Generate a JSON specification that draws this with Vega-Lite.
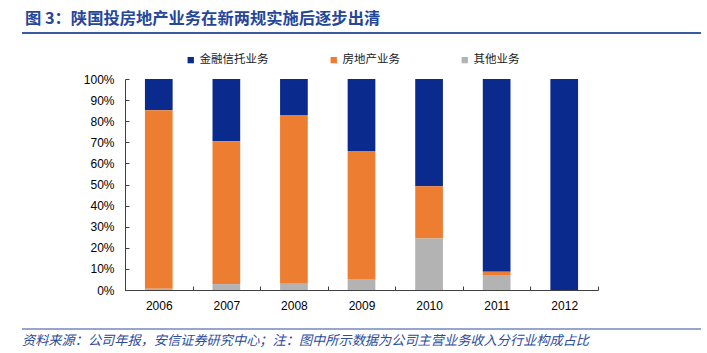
{
  "$schema": "https://vega.github.io/schema/vega-lite/v6.json",
  "background": "white",
  "padding": {"left": 22, "top": 10, "right": 6, "bottom": 2},
  "bounds": "flush",
  "spacing": 45,
  "config": {"view": {"stroke": null}, "font": "Liberation Sans"},
  "vconcat": [
    {
      "width": 679,
      "height": 2,
      "data": {"values": []},
      "mark": "point",
      "encoding": {},
      "view": {"fill": "#3a5aa8", "stroke": null},
      "title": {
        "text": "图 3：陕国投房地产业务在新两规实施后逐步出清",
        "anchor": "start",
        "frame": "group",
        "orient": "top",
        "offset": 5,
        "dx": 3,
        "font": "Noto Sans CJK SC",
        "fontSize": 16.3,
        "fontWeight": "bold",
        "color": "#24479a"
      }
    },
    {
      "bounds": "flush",
      "center": true,
      "spacing": 38.5,
      "vconcat": [
        {
          "width": 473,
          "height": 211,
          "data": {
            "values": [
              {"year": "2006", "category": "金融信托业务", "value": 14.8},
              {"year": "2006", "category": "房地产业务", "value": 84.6},
              {"year": "2006", "category": "其他业务", "value": 0.6},
              {"year": "2007", "category": "金融信托业务", "value": 29.5},
              {"year": "2007", "category": "房地产业务", "value": 67.7},
              {"year": "2007", "category": "其他业务", "value": 2.8},
              {"year": "2008", "category": "金融信托业务", "value": 17.1},
              {"year": "2008", "category": "房地产业务", "value": 79.9},
              {"year": "2008", "category": "其他业务", "value": 3.0},
              {"year": "2009", "category": "金融信托业务", "value": 34.1},
              {"year": "2009", "category": "房地产业务", "value": 60.7},
              {"year": "2009", "category": "其他业务", "value": 5.2},
              {"year": "2010", "category": "金融信托业务", "value": 50.8},
              {"year": "2010", "category": "房地产业务", "value": 24.8},
              {"year": "2010", "category": "其他业务", "value": 24.4},
              {"year": "2011", "category": "金融信托业务", "value": 91.3},
              {"year": "2011", "category": "房地产业务", "value": 1.6},
              {"year": "2011", "category": "其他业务", "value": 7.1},
              {"year": "2012", "category": "金融信托业务", "value": 100},
              {"year": "2012", "category": "房地产业务", "value": 0},
              {"year": "2012", "category": "其他业务", "value": 0}
            ]
          },
          "mark": {"type": "bar", "width": {"band": 0.41}},
          "encoding": {
            "x": {
              "field": "year",
              "type": "ordinal",
              "scale": {"paddingInner": 0, "paddingOuter": 0},
              "axis": {
                "title": null,
                "labelAngle": 0,
                "tickBand": "extent",
                "tickSize": -4,
                "tickColor": "#404040",
                "domainColor": "#404040",
                "labelPadding": 14,
                "labelFont": "Liberation Sans",
                "labelFontSize": 12,
                "labelColor": "#000000"
              }
            },
            "y": {
              "field": "value",
              "type": "quantitative",
              "stack": "normalize",
              "axis": {
                "title": null,
                "grid": false,
                "values": [0, 0.1, 0.2, 0.3, 0.4, 0.5, 0.6, 0.7, 0.8, 0.9, 1],
                "format": ".0%",
                "tickSize": -4,
                "tickColor": "#404040",
                "domainColor": "#404040",
                "labelPadding": 15,
                "labelFont": "Liberation Sans",
                "labelFontSize": 12,
                "labelColor": "#000000"
              }
            },
            "color": {
              "field": "category",
              "type": "nominal",
              "scale": {
                "domain": ["金融信托业务", "房地产业务", "其他业务"],
                "range": ["#0b2a8e", "#ed7d31", "#b3b3b3"]
              },
              "legend": {
                "orient": "none",
                "legendX": 163,
                "legendY": 22,
                "direction": "horizontal",
                "title": null,
                "symbolType": "square",
                "symbolSize": 40,
                "symbolStrokeWidth": 0,
                "labelFont": "Noto Sans CJK SC",
                "labelFontSize": 11.5,
                "labelColor": "#1a1a1a",
                "labelOffset": 3,
                "columnPadding": 59
              }
            },
            "order": {"field": "category", "sort": "ascending"}
          }
        },
        {
          "width": 679,
          "height": 1,
          "data": {"values": []},
          "mark": "point",
          "encoding": {},
          "view": {"fill": "#2e4f9f", "stroke": null},
          "title": {
            "text": "资料来源：公司年报，安信证券研究中心；注：图中所示数据为公司主营业务收入分行业构成占比",
            "anchor": "start",
            "frame": "group",
            "orient": "bottom",
            "offset": 5,
            "font": "Noto Sans CJK SC",
            "fontSize": 13.2,
            "fontStyle": "italic",
            "fontWeight": "normal",
            "color": "#2b4b9b"
          }
        }
      ]
    }
  ]
}
